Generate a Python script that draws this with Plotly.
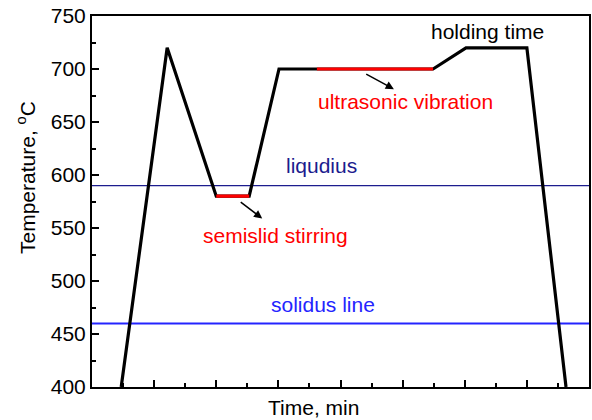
import plotly.graph_objects as go

# Temperature profile (time in arbitrary units, temperature in °C)
profile_time = [0.47, 1.21, 2.0, 2.53, 3.01, 3.62, 5.49, 6.02, 7.0, 7.63]
profile_temp = [400, 720, 580, 580, 700, 700, 700, 720, 720, 400]

stir_time = [2.0, 2.53]
stir_temp = [580, 580]

ultra_time = [3.62, 5.49]
ultra_temp = [700, 700]

liquidus_temp = 590
solidus_temp = 460

x_range = [0, 8]
y_range = [400, 750]

FONT = "Liberation Sans, Arial, sans-serif"
FS = 21

fig = go.Figure()

fig.add_trace(go.Scatter(x=x_range, y=[liquidus_temp] * 2, mode="lines",
                         line=dict(color="#1c1c8e", width=1.4), showlegend=False))
fig.add_trace(go.Scatter(x=x_range, y=[solidus_temp] * 2, mode="lines",
                         line=dict(color="#2424ff", width=2), showlegend=False))
fig.add_trace(go.Scatter(x=profile_time, y=profile_temp, mode="lines",
                         line=dict(color="black", width=3.2), showlegend=False))
fig.add_trace(go.Scatter(x=stir_time, y=stir_temp, mode="lines",
                         line=dict(color="#ff0000", width=3.2), showlegend=False))
fig.add_trace(go.Scatter(x=ultra_time, y=ultra_temp, mode="lines",
                         line=dict(color="#ff0000", width=3.2), showlegend=False))

def label(x, y, text, color):
    fig.add_annotation(x=x, y=y, xref="x", yref="y", text=text, showarrow=False,
                       xanchor="center", yanchor="middle",
                       font=dict(family=FONT, size=FS, color=color))

label(6.36, 735, "holding time", "black")
label(5.04, 669, "ultrasonic vibration", "#ff0000")
label(3.70, 609.4, "liqudius", "#1c1c8e")
label(2.95, 543.4, "semislid stirring", "#ff0000")
label(3.72, 477.4, "solidus line", "#2424ff")

def arrow(x0, y0, x1, y1):
    fig.add_annotation(x=x1, y=y1, ax=x0, ay=y0, xref="x", yref="y",
                       axref="x", ayref="y", text="", showarrow=True,
                       arrowhead=2, arrowsize=1.1, arrowwidth=1.5, arrowcolor="black")

arrow(2.37, 575.5, 2.74, 559)
arrow(4.39, 696, 4.86, 681)

# axis titles
fig.add_annotation(x=-0.1328, y=0.566, xref="paper", yref="paper",
                   text="Temperature, <sup>o</sup>C", textangle=-90, showarrow=False,
                   xanchor="center", yanchor="middle",
                   font=dict(family=FONT, size=FS, color="black"))
fig.add_annotation(x=0.4447, y=-0.054, xref="paper", yref="paper",
                   text="Time, min", showarrow=False,
                   xanchor="center", yanchor="middle",
                   font=dict(family=FONT, size=FS, color="black"))

fig.update_xaxes(range=x_range, showticklabels=False, ticks="inside", ticklen=7,
                 tickwidth=1.5, tickcolor="black", dtick=1, tick0=0,
                 showline=True, linecolor="black", linewidth=2, mirror=True,
                 showgrid=False, zeroline=False, automargin=False,
                 minor=dict(ticks="inside", ticklen=4, dtick=0.5, tick0=0,
                            tickcolor="black", tickwidth=1.5, showgrid=False))
fig.update_yaxes(range=y_range, ticks="inside", ticklen=7, tickwidth=1.5,
                 tickcolor="black", dtick=50, tick0=400,
                 tickfont=dict(family=FONT, size=FS, color="black"),
                 showline=True, linecolor="black", linewidth=2, mirror=True,
                 showgrid=False, zeroline=False, automargin=False,
                 minor=dict(ticks="inside", ticklen=4, dtick=25, tick0=400,
                            tickcolor="black", tickwidth=1.5, showgrid=False))

fig.update_layout(width=592, height=420, margin=dict(l=92, r=3, t=16, b=33, autoexpand=False),
                  paper_bgcolor="white", plot_bgcolor="white",
                  font=dict(family=FONT, size=FS, color="black"))

fig.write_html("out.html", config={"displayModeBar": False},
               post_script="document.body.style.margin='0';")
